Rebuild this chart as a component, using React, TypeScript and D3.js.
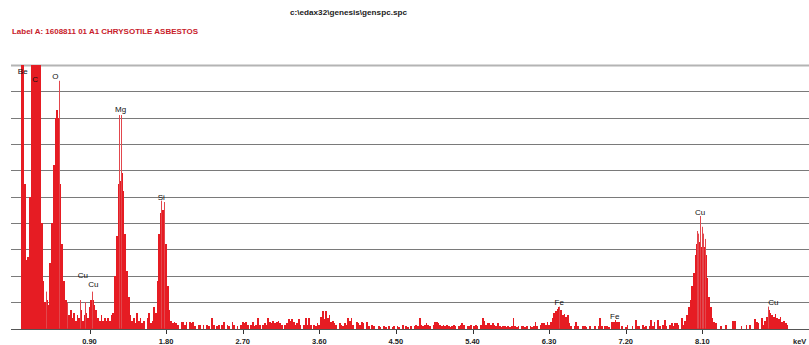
import React from "react";
import * as d3 from "d3";

// Spectrum body counts (% of full scale), bins of 0.02 keV starting at 0.09 keV
const binStart = 0.09;
const binWidth = 0.02;
const counts = [
  100,100,55,26,27,50,100,100,100,100,
  100,100,40,18,10,11,9,25,40,62,
  80,83,80,55,32,18,11,7,5,7,
  4,6,3,5,4,7,3,5,6,4,
  8,11,11,9,7,4,3,5,3,4,
  3,4,3,5,6,20,35,55,56,59,
  52,36,22,12,5,3,4,2,6,3,
  4,2,3,0,4,6,2,3,8,6,
  18,36,44,45,43,32,16,7,3,2,
  2.6,2,1.5,0,2.6,2.6,1.5,2.6,0,2.6,
  2,2.6,1,0,1.5,1.5,0,1.5,0,1.5,
  1,0,4,1.5,0,1,1.5,0,1.5,2.6,
  0,1.5,1,0,2.6,1.5,0,1,0,1.5,
  2.6,2,2.6,1.5,0,1.5,2.6,1,1.5,4,
  1.5,0,1.5,2,1.5,4,2.6,2,3,2,
  2.6,3,2,1.5,0,1.5,2,3.5,3,3.5,
  2.6,1.5,2,3.5,1.5,0,1.5,4,1.5,4,
  1.5,0,1.5,1,2,1.5,4.5,6.8,3.5,6.6,
  4,5,2.6,3,2,1.5,0,2,1.5,1,
  2,1.5,4,3,4,1.5,0,2.6,2,1.5,
  2.6,2,0,2.6,1,0,1.5,1,0,0,
  1,0.7,0,1,0.7,0,1,0,0.7,1,
  0,1,0.7,0,1.5,0,1,0.7,0,1,
  0,1,1.5,1,4,1.5,1,1.5,2,1.5,
  1,0,1.5,2.6,2.6,2,1.5,1,1.5,1,
  1.5,1,0.7,1,1.5,1,0,1,1.5,2,
  1.5,0,1,1,1.5,0,1,1.5,1,0,
  1.5,4,3,1.5,2,2,1.5,2,1.5,1,
  2,1,0.7,1,1,0.7,1,0.7,1,4,
  1,0.7,1,0,1,1,0.7,1,0,1,
  0.7,1,2.5,1,0,1.5,2,2,1.5,2.5,
  1.5,2.5,4,6,6.5,7.5,8,7,5,5.5,
  4.5,5,2,1,0,1,2.5,1,0,0,
  1,1,0.7,0,1,0,0,1,0,1,
  4,1,0,1,1,0.7,0,2.6,2.6,3.2,
  2.6,2.6,0,1,0,0.7,1.5,0,0,1,
  0,3.2,1,1,0,1.5,0.7,1,0,1,
  3.2,1,2.5,0,3.2,1,0,1.5,3.2,1,
  0,1.5,2,1,2,2,1.5,0,4,1.5,
  3,5,8,11,16,21,28,32,33,31,
  31,31,28,19,12,8,4,2.5,2,0,
  0,1,0,0,1.5,0,0,0,3,3,
  0,0,0,1,0,0,1.5,0,1.5,0,
  0,3.5,2.5,2,0,4,1.5,3,4.5,7,
  6,5,4.5,5.5,4,3.5,4.5,2.5,3,2,
  1.5,0,
];

// Thin single-channel spikes above the body
const spikeEnergy = [0.385, 0.538, 0.632, 0.788, 0.847, 0.926, 1.25, 1.27, 1.74, 1.781, 6.42, 8.038, 8.055, 8.073, 8.091, 8.108, 8.132, 8.87];
const spikeHeight = [14, 94, 9.7, 10.8, 10, 14, 81, 81, 48.5, 48, 8.3, 37, 36, 42.7, 38.6, 36, 34, 8.3];

// Element labels
const labelText = ["Be", "C", "O", "Mg", "Si", "Cu", "Cu", "Fe", "Fe", "Cu", "Cu"];
const labelEnergy = [0.116, 0.26, 0.498, 1.266, 1.744, 0.821, 0.945, 6.419, 7.071, 8.075, 8.934];
const labelHeight = [97.7, 94.6, 95.6, 83.3, 50, 20.2, 16.8, 9.9, 4.5, 44.3, 9.9];

const tickValues = [0.9, 1.8, 2.7, 3.6, 4.5, 5.4, 6.3, 7.2, 8.1];
const gridValues = [10, 20, 30, 40, 50, 60, 70, 80, 90, 100];

const W = 809;
const H = 345;

export default function App() {
  const x = d3.scaleLinear().domain([0, 9.35]).range([12.9, 808.7]);
  const y = d3.scaleLinear().domain([0, 100]).range([328.5, 65]);
  const left = 11;
  const right = 809;
  const font = "'Liberation Sans', Arial, sans-serif";

  return (
    <svg
      width={W}
      height={H}
      style={{ position: "absolute", left: 0, top: 0, background: "#fff" }}
    >
      <rect x={0} y={0} width={W} height={H} fill="#fff" />
      <text x={290} y={15} fontFamily={font} fontSize={8} fontWeight="bold" fill="#222"
        textLength={117} lengthAdjust="spacingAndGlyphs">
        {"c:\\edax32\\genesis\\genspc.spc"}
      </text>
      <text x={12} y={34} fontFamily={font} fontSize={8} fontWeight="bold" fill="#c8202a"
        textLength={186} lengthAdjust="spacingAndGlyphs">
        Label A: 1608811 01 A1 CHRYSOTILE ASBESTOS
      </text>

      {gridValues.map((g) => (
        <line key={g} x1={left} x2={right} y1={Math.round(y(g)) + 0.5} y2={Math.round(y(g)) + 0.5}
          stroke={g === 100 ? "#b4b4b4" : "#7a7a7a"} strokeWidth={g === 100 ? 2 : 1} />
      ))}

      <g shapeRendering="crispEdges">
        {counts.map((v, i) => {
          if (v <= 0) return null;
          const e = binStart + i * binWidth;
          const vv = Math.min(v, 100);
          const x0 = Math.round(x(e));
          const x1 = Math.round(x(e + binWidth));
          const top = Math.round(y(vv));
          return (
            <rect key={i} x={x0} y={top} width={Math.max(1, x1 - x0)} height={329 - top} fill="#e61c23" />
          );
        })}
      </g>
      <g>
        {spikeEnergy.map((e, i) => (
          <line key={i} x1={Math.round(x(e)) + 0.5} x2={Math.round(x(e)) + 0.5} y1={y(0)} y2={y(spikeHeight[i])}
            stroke="#e2474d" strokeWidth={1} />
        ))}
      </g>

      <line x1={left} x2={right} y1={329.5} y2={329.5} stroke="#555" strokeWidth={1} />
      {tickValues.map((t) => (
        <g key={t}>
          <line x1={Math.round(x(t)) + 0.5} x2={Math.round(x(t)) + 0.5} y1={330} y2={334} stroke="#333" />
          <text x={x(t)} y={344} textAnchor="middle" fontFamily={font} fontSize={7.5} fontWeight="bold" fill="#222">
            {t.toFixed(2)}
          </text>
        </g>
      ))}
      <text x={793} y={344} fontFamily={font} fontSize={7.5} fontWeight="bold" fill="#222">keV</text>

      {labelText.map((t, i) => (
        <text key={i} x={x(labelEnergy[i])} y={y(labelHeight[i])} dy="0.35em" textAnchor="middle"
          fontFamily={font} fontSize={8} fill="#111">
          {t}
        </text>
      ))}
    </svg>
  );
}
